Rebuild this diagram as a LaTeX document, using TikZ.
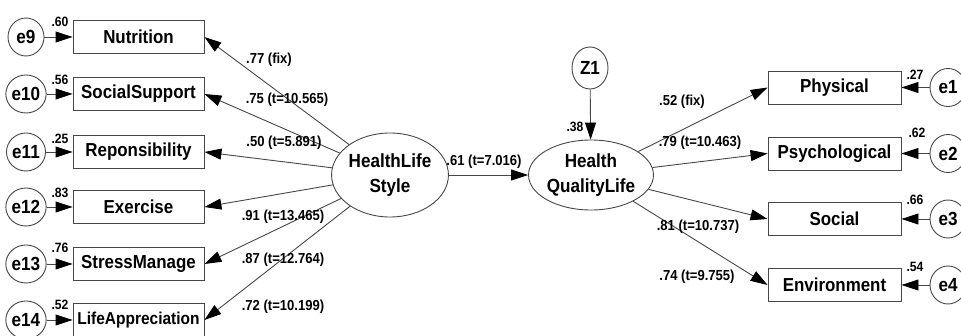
\documentclass[tikz,border=0pt]{standalone}
\usepackage{fontspec}
\setmainfont[FakeStretch=0.9]{Liberation Sans}
\usetikzlibrary{arrows.meta,shapes.geometric}
\begin{document}
\begin{tikzpicture}[x=1pt,y=-1pt,
 box/.style={draw=black!72, line width=0.9pt, minimum width=131pt, minimum height=33pt, inner sep=0pt, font=\fontsize{18.8}{20}\selectfont\bfseries},
 err/.style={ellipse, draw=black!72, line width=0.9pt, minimum width=36pt, minimum height=38pt, inner sep=0pt, font=\fontsize{19}{20}\selectfont\bfseries},
 lat/.style={ellipse, draw=black!72, line width=0.9pt, inner sep=0pt, align=center, font=\fontsize{19}{25}\selectfont\bfseries},
 arr/.style={draw=black!72, line width=0.9pt, -{Triangle[length=17pt,width=11pt,fill=black,color=black]}},
 lab/.style={font=\fontsize{14.5}{16}\selectfont\bfseries, inner sep=0pt},
 var/.style={font=\fontsize{13.5}{15}\selectfont\bfseries, inner sep=0pt}]
\useasboundingbox (0,0) rectangle (961,336);
% left indicators
\foreach \n/\t/\y in {9/Nutrition/37,10/SocialSupport/94,11/Reponsibility/152,12/Exercise/207,13/StressManage/264}{
  \node[err] (e\n) at (26,\y) {e\n};
  \node[box] (b\n) at (138.5,\y) {\t};
  \draw[arr] (e\n) -- (b\n);
}
\node[err] (e14) at (26,320) {e14};
\node[box, font=\fontsize{17.2}{19}\selectfont\bfseries] (b14) at (138.5,320) {LifeAppreciation};
\draw[arr] (e14) -- (b14);
% latent
\node[lat, minimum width=104pt, minimum height=84pt] (hls) at (390,175) {HealthLife\\Style};
\node[lat, minimum width=102pt, minimum height=70pt] (hql) at (591,175) {Health\\QualityLife};
\node[err, minimum height=42pt] (z1) at (590,68) {Z1};
\foreach \n in {9,...,14}{ \draw[arr] (hls) -- (b\n.east); }
\draw[arr] (hls) -- (hql);
\draw[arr] (z1) -- (hql);
% right indicators
\foreach \n/\t/\y in {1/Physical/87.5,2/Psychological/153.5,3/Social/219,4/Environment/285}{
  \node[box, minimum width=133pt] (r\n) at (834.5,\y) {\t};
  \node[err] (f\n) at (948,\y) {e\n};
  \draw[arr] (f\n) -- (r\n);
  \draw[arr] (hql) -- (r\n.west);
}
% variance labels
\node[var] (v9) at (60,22) {.60};
\node[var] (v10) at (60,80) {.56};
\node[var] (v11) at (60,139) {.25};
\node[var] (v12) at (60,193) {.83};
\node[var] (v13) at (60,248) {.76};
\node[var] (v14) at (60,305) {.52};
\node[var] (v1) at (915,75) {.27};
\node[var] (v2) at (917,133) {.62};
\node[var] (v3) at (915,200) {.66};
\node[var] (v4) at (915,267) {.54};
\node[var] (vz) at (575,127) {.38};
% loadings
\node[lab] (l9) at (269,60) {.77 (fix)};
\node[lab] (l10) at (287,100) {.75 (t=10.565)};
\node[lab] (l11) at (284,143) {.50 (t=5.891)};
\node[lab] (l12) at (283,217) {.91 (t=13.465)};
\node[lab] (l13) at (283,260) {.87 (t=12.764)};
\node[lab] (l14) at (283,307) {.72 (t=10.199)};
\node[lab] (ls) at (484,162) {.61 (t=7.016)};
\node[lab] (l1) at (682,102) {.52 (fix)};
\node[lab] (l2) at (700,143) {.79 (t=10.463)};
\node[lab] (l3) at (698,227) {.81 (t=10.737)};
\node[lab] (l4) at (697,277) {.74 (t=9.755)};
\end{tikzpicture}
\end{document}
